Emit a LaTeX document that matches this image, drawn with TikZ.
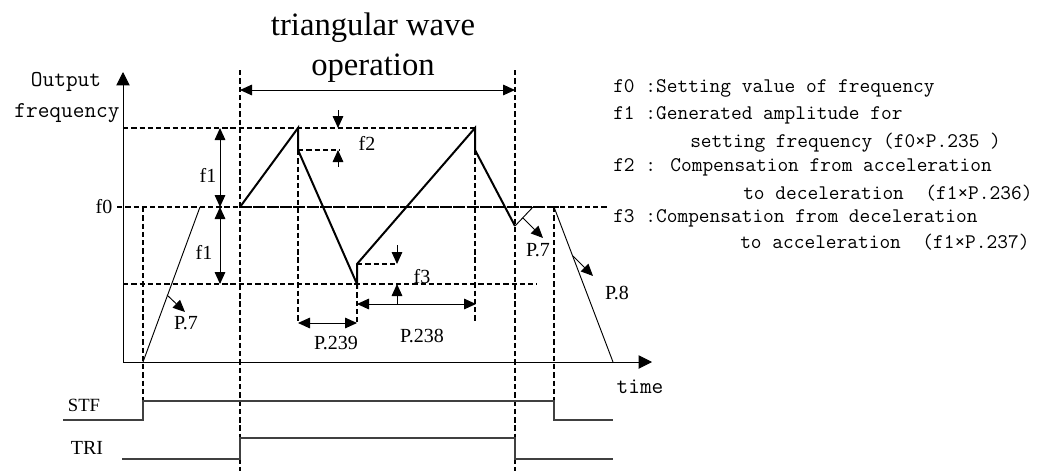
\documentclass[tikz,border=0pt]{standalone}
\usepackage{fontspec}
\setmainfont{Liberation Serif}
\usetikzlibrary{arrows.meta}
\usetikzlibrary{positioning}

\tikzset{
  wave/.style={line width=1.5pt},
  guide/.style={line width=1pt,dash pattern=on 4pt off 2.2pt},
  thinline/.style={line width=0.7pt},
  sigline/.style={line width=0.8pt,black!75},
  bigtip/.style={-{Triangle[length=10pt,width=10pt]}},
  tip/.style={-{Triangle[length=9pt,width=8pt]}},
  bothtips/.style={{Triangle[length=9pt,width=8pt]}-{Triangle[length=9pt,width=8pt]}},
  lbl/.style={font=\fontsize{15}{18}\selectfont,inner sep=0pt},
  axlbl/.style={font=\ttfamily\fontsize{17}{20}\selectfont,inner sep=0pt},
  mono/.style={font=\ttfamily\fontsize{15.6}{18}\selectfont,anchor=west,inner sep=0pt},
}

\begin{document}
\begin{tikzpicture}[x=0.75pt,y=-0.75pt]
\useasboundingbox (0,0) rectangle (1062,471);

\draw[thinline,bigtip] (123,362) -- (123,72);
\draw[thinline,bigtip] (123,362) -- (652,362);
\node[axlbl] (yl1) at (66,82) {Output};
\node[axlbl] (yl2) at (67,113) {frequency};
\node[axlbl] (xl) at (640,387) {time};

\node[font=\fontsize{24.5}{29}\selectfont,inner sep=0pt] (title1) at (373,28) {triangular wave};
\node[font=\fontsize{24.5}{29}\selectfont,inner sep=0pt] (title2) at (373,68) {operation};
\draw[thinline,bothtips] (240,90) -- (515,90);

\draw[guide] (123,128) -- (475,128);
\draw[guide] (117,207) -- (240,207);
\draw[line width=1.4pt,dash pattern=on 9pt off 1pt] (240,207) -- (560,207);
\draw[guide] (560,207) -- (607,207);
\draw[guide] (123,284) -- (537,284);

\draw[guide] (143,207) -- (143,420);
\draw[guide] (240,70) -- (240,471);
\draw[guide] (515,70) -- (515,471);
\draw[guide] (298,150) -- (298,323);
\draw[guide] (357,284) -- (357,323);
\draw[guide] (475,150) -- (475,323);
\draw[guide] (554,207) -- (554,420);
\draw[guide] (298,150) -- (340,150);
\draw[guide] (357,264) -- (398,264);

\draw[wave] (240,207) -- (298,128) -- (298,150) -- (357,284) -- (357,264)
  -- (475,128) -- (475,150) -- (515,226);
\draw[thinline] (143,362) -- (200,207);
\draw[thinline] (515,226) -- (533,207);
\draw[thinline] (554,207) -- (613,362);

\node[lbl] (f0) at (104,207) {f0};
\draw[thinline,bothtips] (220,128) -- (220,207);
\node[lbl] (f1a) at (208,175) {f1};
\draw[thinline,bothtips] (220,207) -- (220,284);
\node[lbl] (f1b) at (204,252) {f1};

\draw[thinline,tip] (338,110) -- (338,128);
\draw[thinline,tip] (338,167) -- (338,150);
\node[lbl] (f2) at (367,143) {f2};
\draw[thinline,tip] (397,245) -- (397,264);
\draw[thinline,tip] (397,304) -- (397,284);
\node[lbl] (f3) at (422,277) {f3};

\draw[thinline,bothtips] (298,323) -- (357,323);
\node[lbl] (p239) at (336,343) {P.239};
\draw[thinline,bothtips] (357,304) -- (476,304);
\node[lbl] (p238) at (422,336) {P.238};

\draw[thinline,tip] (167,295) -- (185,312);
\node[lbl] (p7a) at (186,323) {P.7};
\draw[thinline,tip] (523,218) -- (543,238);
\node[lbl] (p7b) at (538,250) {P.7};
\draw[thinline,tip] (573,256) -- (593,276);
\node[lbl] (p8) at (617,293) {P.8};

\node[font=\fontsize{14}{17}\selectfont,inner sep=0pt] (stf) at (84,405) {STF};
\draw[sigline] (63,420) -- (143,420) -- (143,401) -- (554,401) -- (554,420) -- (613,420);
\node[font=\fontsize{15}{18}\selectfont,inner sep=0pt] (tri) at (87,448) {TRI};
\draw[sigline] (122,459) -- (240,459) -- (240,438) -- (515,438) -- (515,459) -- (613,459);

\node[mono] (lg1) at (613,88) {f0 :Setting value of frequency};
\node[mono] (lg2) at (613,115) {f1 :Generated amplitude for};
\node[mono] (lg3) at (690,143) {setting frequency (f0×P.235 )};
\node[mono] (lg4) at (613,167) {f2 : Compensation from acceleration};
\node[mono] (lg5) at (743,193) {to deceleration\ \ (f1×P.236)};
\node[mono] (lg6) at (613,218) {f3 :Compensation from deceleration};
\node[mono] (lg7) at (740,242) {to acceleration\ \ (f1×P.237)};

\end{tikzpicture}
\end{document}
